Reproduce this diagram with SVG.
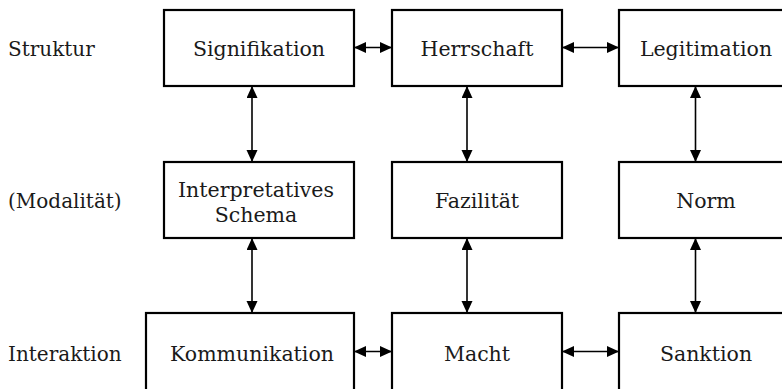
<svg xmlns="http://www.w3.org/2000/svg" width="782" height="389" viewBox="0 0 782 389">
<style>
  .box { fill: #fff; stroke: #000; stroke-width: 2.2; }
  .t { font-family: "DejaVu Serif", "Liberation Serif", serif; font-size: 20.5px; fill: #1a1a1a; text-anchor: middle; }
  .lbl { font-family: "DejaVu Serif", "Liberation Serif", serif; font-size: 20px; fill: #1a1a1a; }
  .c { stroke: #000; stroke-width: 1.6; fill: none; marker-start: url(#ah); marker-end: url(#ah); }
</style>
<defs>
  <marker id="ah" markerUnits="userSpaceOnUse" markerWidth="13" markerHeight="12" refX="12" refY="5.5" orient="auto-start-reverse">
    <path d="M0,0 L12,5.5 L0,11 z" fill="#000"/>
  </marker>
</defs>
<rect width="782" height="389" fill="#fff"/>
<g id="labels">
  <text class="lbl" x="8" y="56">Struktur</text>
  <text class="lbl" x="8" y="208">(Modalität)</text>
  <text class="lbl" x="8" y="361">Interaktion</text>
</g>
<g id="connectors">
  <line class="c" x1="354" y1="47.5" x2="392" y2="47.5"/>
  <line class="c" x1="562" y1="47.5" x2="619" y2="47.5"/>
  <line class="c" x1="354" y1="351.5" x2="392" y2="351.5"/>
  <line class="c" x1="562" y1="351.5" x2="619" y2="351.5"/>
  <line class="c" x1="252" y1="86" x2="252" y2="162"/>
  <line class="c" x1="467" y1="86" x2="467" y2="162"/>
  <line class="c" x1="695.5" y1="86" x2="695.5" y2="162"/>
  <line class="c" x1="252" y1="238" x2="252" y2="313"/>
  <line class="c" x1="467" y1="238" x2="467" y2="313"/>
  <line class="c" x1="695.5" y1="238" x2="695.5" y2="313"/>
</g>
<g id="signifikation"><rect class="box" x="164" y="10" width="190" height="76"/><text class="t" x="259" y="56">Signifikation</text></g>
<g id="herrschaft"><rect class="box" x="392" y="10" width="170" height="76"/><text class="t" x="477" y="56">Herrschaft</text></g>
<g id="legitimation"><rect class="box" x="619" y="10" width="174" height="76"/><text class="t" x="706" y="56">Legitimation</text></g>
<g id="interpretatives-schema"><rect class="box" x="164" y="162" width="190" height="76"/><text class="t" x="256" y="197">Interpretatives</text><text class="t" x="256" y="222">Schema</text></g>
<g id="fazilitaet"><rect class="box" x="392" y="162" width="170" height="76"/><text class="t" x="477" y="208">Fazilität</text></g>
<g id="norm"><rect class="box" x="619" y="162" width="174" height="76"/><text class="t" x="706" y="208">Norm</text></g>
<g id="kommunikation"><rect class="box" x="146" y="313" width="208" height="80"/><text class="t" x="252" y="361">Kommunikation</text></g>
<g id="macht"><rect class="box" x="392" y="313" width="170" height="80"/><text class="t" x="477" y="361">Macht</text></g>
<g id="sanktion"><rect class="box" x="619" y="313" width="174" height="80"/><text class="t" x="706" y="361">Sanktion</text></g>
</svg>
